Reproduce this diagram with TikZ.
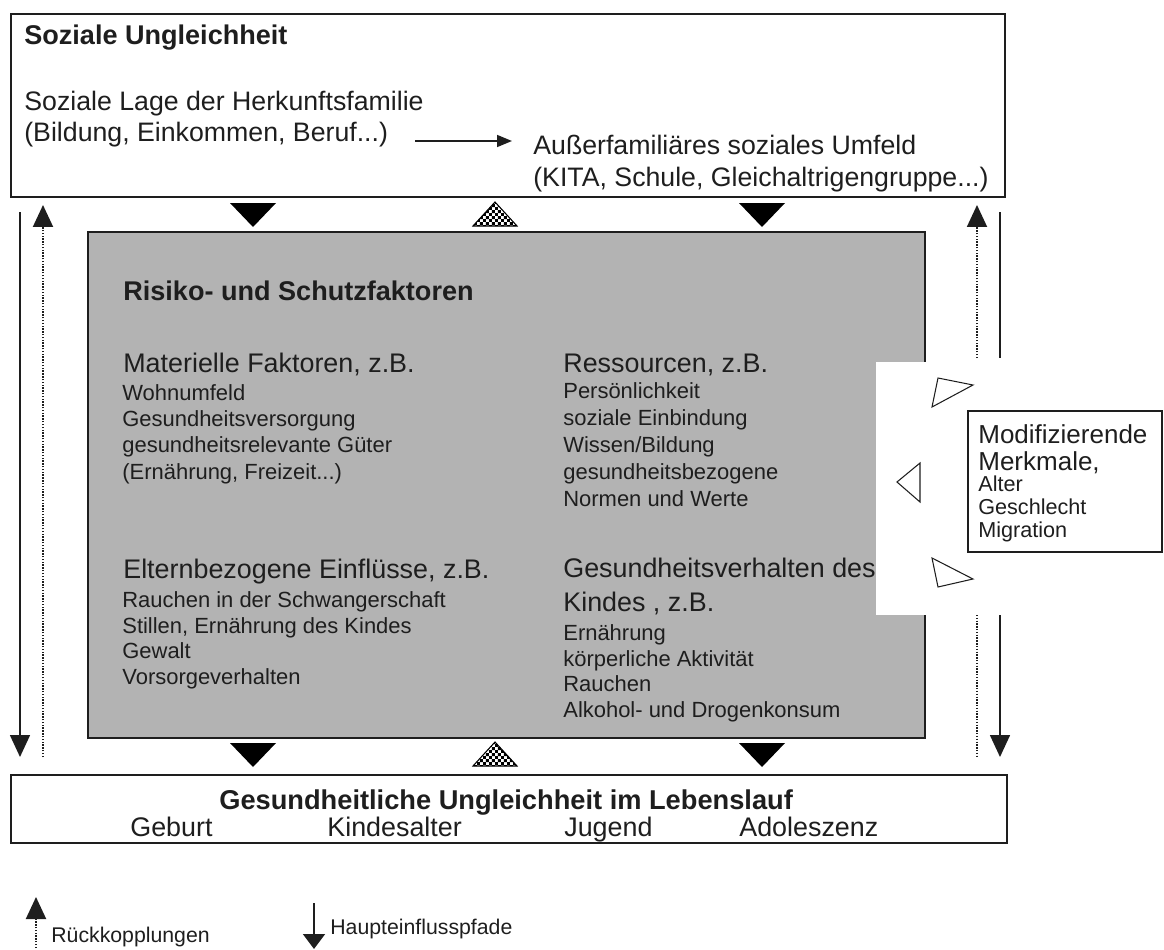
\documentclass[tikz,border=0pt]{standalone}
\usepackage{fontspec}
\setmainfont{Liberation Sans}
\usetikzlibrary{arrows.meta,patterns}
\definecolor{boxgray}{HTML}{B3B3B3}
\definecolor{ink}{HTML}{1E1E1E}
\pgfdeclarepatternformonly{finechecker}{\pgfpointorigin}{\pgfpoint{3.4pt}{3.4pt}}{\pgfpoint{3.4pt}{3.4pt}}{%
  \pgfpathrectangle{\pgfpointorigin}{\pgfpoint{1.7pt}{1.7pt}}%
  \pgfpathrectangle{\pgfpoint{1.7pt}{1.7pt}}{\pgfpoint{1.7pt}{1.7pt}}%
  \pgfusepath{fill}}

\begin{document}
\begin{tikzpicture}[x=0.02cm, y=-0.02cm]
\tikzstyle{every node}=[inner sep=0pt, text=ink, align=left];
\tikzstyle{frame}=[draw=ink, line width=1.1pt];
\tikzstyle{bigtext}=[font=\fontsize{15.3}{19.3}\selectfont];
\tikzstyle{headtext}=[font=\bfseries\fontsize{15.4}{19}\selectfont];
\tikzstyle{smalltext}=[font=\fontsize{12.5}{15}\selectfont];
\tikzstyle{mainarrow}=[draw=ink, line width=0.9pt, -{Triangle[length=0.44cm,width=0.4cm]}];
\tikzstyle{backarrow}=[draw=ink, line width=1.1pt, dash pattern=on 0.8pt off 0.8pt, -{Triangle[length=0.44cm,width=0.4cm]}];
\tikzstyle{checker}=[draw=black, line width=0.6pt, pattern=finechecker, pattern color=black];
\tikzstyle{opentri}=[draw=ink, line width=0.6pt];
\useasboundingbox (0,0) rectangle (1164,950);

% boxes
\node[frame, minimum width=19.88cm, minimum height=3.66cm] (soz) at (508,105.5) {};
\node[frame, fill=boxgray, minimum width=16.74cm, minimum height=10.12cm] (risk) at (506.5,485) {};
\fill[white] (876,362) rectangle (931,615);
\node[frame, line width=0.8pt, minimum width=3.88cm, minimum height=2.82cm] (modif) at (1065,481.5) {};
\node[frame, minimum width=19.92cm, minimum height=1.36cm] (health) at (509,809) {};

% top box
\node[headtext, anchor=base west] (sozhead) at (24,45) {Soziale Ungleichheit};
\node[anchor=north west, font=\fontsize{15.2}{17.6}\selectfont] (lage) at (24,91) {Soziale Lage der Herkunftsfamilie\\(Bildung, Einkommen, Beruf...)};
\node[anchor=north west, font=\fontsize{15.2}{18.2}\selectfont] (umfeld) at (533,135) {Au\ss erfamili\"ares soziales Umfeld\\(KITA, Schule, Gleichaltrigengruppe...)};
\coordinate (fa) at (415,141);
\coordinate (fb) at (512,141);
\draw[draw=ink, line width=0.9pt, -{Triangle[length=0.3cm,width=0.24cm]}] (fa) -- (fb);

% gray box
\node[headtext, anchor=base west] (riskhead) at (123,300) {Risiko- und Schutzfaktoren};
\node[bigtext, anchor=base west] (mat) at (123,372) {Materielle Faktoren, z.B.};
\node[smalltext, anchor=north west] (matlist) at (122,384) {Wohnumfeld\\Gesundheitsversorgung\\gesundheitsrelevante G\"uter\\(Ern\"ahrung, Freizeit...)};
\node[bigtext, anchor=base west] (res) at (563,372) {Ressourcen, z.B.};
\node[smalltext, anchor=north west, font=\fontsize{12.5}{15.4}\selectfont] (reslist) at (563,382) {Pers\"onlichkeit\\soziale Einbindung\\Wissen/Bildung\\gesundheitsbezogene\\Normen und Werte};
\node[bigtext, anchor=base west] (eltern) at (123,578) {Elternbezogene Einfl\"usse, z.B.};
\node[smalltext, anchor=north west, font=\fontsize{12.5}{14.7}\selectfont] (elternlist) at (122,591) {Rauchen in der Schwangerschaft\\Stillen, Ern\"ahrung des Kindes\\Gewalt\\Vorsorgeverhalten};
\node[bigtext, anchor=north west] (kind) at (563,558) {Gesundheitsverhalten des\\Kindes , z.B.};
\node[smalltext, anchor=north west, font=\fontsize{12.5}{14.7}\selectfont] (kindlist) at (563,624) {Ern\"ahrung\\k\"orperliche Aktivit\"at\\Rauchen\\Alkohol- und Drogenkonsum};

% modifying features
\node[anchor=north west, font=\fontsize{14.8}{15.3}\selectfont] (modhead) at (978,424) {Modifizierende\\Merkmale,};
\node[anchor=north west, font=\fontsize{12.3}{13.1}\selectfont] (modlist) at (978,475) {Alter\\Geschlecht\\Migration};
\draw[opentri] (932,407) -- (938,378) -- (973,385) -- cycle;
\draw[opentri] (897,482) -- (920,463) -- (920,502) -- cycle;
\draw[opentri] (932,558) -- (938,587) -- (973,579) -- cycle;

% triangles between boxes
\foreach \x in {253,762} {
  \fill[black] (\x-23,203) -- (\x+23,203) -- (\x,227) -- cycle;
  \fill[black] (\x-23,743) -- (\x+23,743) -- (\x,767) -- cycle;
}
\draw[checker] (473,226) -- (517,226) -- (495,202) -- cycle;
\draw[checker] (473,766) -- (517,766) -- (495,742) -- cycle;

% side paths
\coordinate (l1) at (20,212);
\coordinate (l2) at (20,757);
\coordinate (l3) at (43,757);
\coordinate (l4) at (43,205);
\coordinate (r1) at (977,358);
\coordinate (r2) at (977,205);
\coordinate (r3) at (1000,212);
\coordinate (r4) at (1000,358);
\coordinate (r5) at (977,615);
\coordinate (r6) at (977,757);
\coordinate (r7) at (1000,615);
\coordinate (r8) at (1000,757);
\draw[mainarrow] (l1) -- (l2);
\draw[backarrow] (l3) -- (l4);
\draw[backarrow] (r1) -- (r2);
\draw[draw=ink, line width=0.9pt] (r3) -- (r4);
\draw[draw=ink, line width=1.1pt, dash pattern=on 0.8pt off 0.8pt] (r5) -- (r6);
\draw[mainarrow] (r7) -- (r8);

% bottom box
\node[headtext, anchor=base west, font=\bfseries\fontsize{15.5}{19}\selectfont] (healthhead) at (219,809) {Gesundheitliche Ungleichheit im Lebenslauf};
\node[bigtext, anchor=base west] (geburt) at (130,836) {Geburt};
\node[bigtext, anchor=base west] (kindesalter) at (327,836) {Kindesalter};
\node[bigtext, anchor=base west] (jugend) at (564,836) {Jugend};
\node[bigtext, anchor=base west] (adol) at (739,836) {Adoleszenz};

% legend
\coordinate (g1) at (36,948);
\coordinate (g2) at (36,897);
\coordinate (g3) at (314,903);
\coordinate (g4) at (314,949);
\draw[backarrow] (g1) -- (g2);
\node[anchor=base west, font=\fontsize{12.1}{14}\selectfont] (rueck) at (51,942) {R\"uckkopplungen};
\draw[mainarrow, -{Triangle[length=0.3cm,width=0.44cm]}] (g3) -- (g4);
\node[anchor=base west, font=\fontsize{12.1}{14}\selectfont] (haupt) at (330,934) {Haupteinflusspfade};
\end{tikzpicture}
\end{document}
